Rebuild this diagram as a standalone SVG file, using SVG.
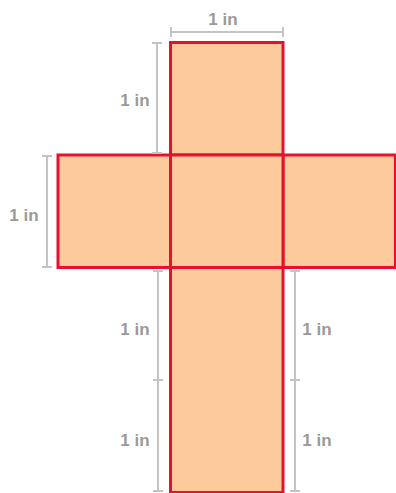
<svg xmlns="http://www.w3.org/2000/svg" width="396" height="493" viewBox="0 0 396 493">
<style>
.face{fill:#fdca9c;stroke:#e6122d;stroke-width:3}
.dim{stroke:#c4c4c4;stroke-width:2;fill:none}
.lbl{font-family:"Liberation Sans",Arial,sans-serif;font-size:17px;font-weight:bold;fill:#9a9a9a;text-anchor:middle}
</style>
<rect width="396" height="493" fill="#fff"/>
<g id="net">
<g id="face-top"><rect class="face" x="170.5" y="42.5" width="112.5" height="112.5"/></g>
<g id="face-left"><rect class="face" x="58" y="155" width="112.5" height="112.5"/></g>
<g id="face-right"><rect class="face" x="283" y="155" width="112.5" height="112.5"/></g>
<g id="face-center"><rect class="face" x="170.5" y="155" width="112.5" height="112.5"/></g>
<g id="face-bottom"><rect class="face" x="170.5" y="267.5" width="112.5" height="225"/></g>
</g>
<g id="dimensions">
<path class="dim" d="M171 32H283M171 27V37M283 27V37"/>
<path class="dim" d="M157 43V153M152 43H162M152 153H162"/>
<path class="dim" d="M47 156V267M42 156H52M42 267H52"/>
<path class="dim" d="M158 271V491M153 271H163M153 380H163M153 491H163"/>
<path class="dim" d="M295 271V491M290 271H300M290 380H300M290 491H300"/>
</g>
<g id="labels">
<text class="lbl" x="223" y="25">1 in</text>
<text class="lbl" x="135" y="106">1 in</text>
<text class="lbl" x="24" y="221">1 in</text>
<text class="lbl" x="135" y="335">1 in</text>
<text class="lbl" x="135" y="446">1 in</text>
<text class="lbl" x="317" y="335">1 in</text>
<text class="lbl" x="317" y="446">1 in</text>
</g>
</svg>
